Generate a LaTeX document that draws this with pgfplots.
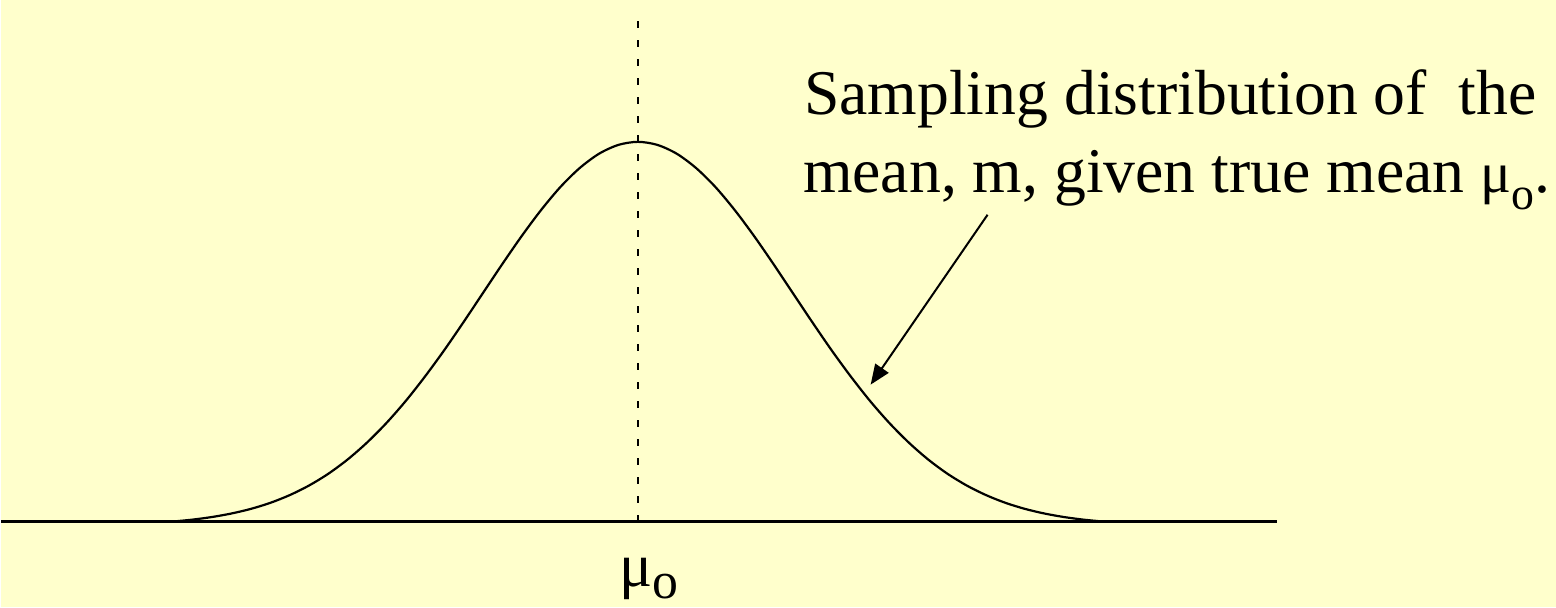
\documentclass[border=0pt]{standalone}
\usepackage{pgfplots}
\pgfplotsset{compat=1.18}
\usepackage{fontspec}
\setmainfont{Liberation Serif}
\usetikzlibrary{arrows.meta}
\definecolor{bgc}{RGB}{255,255,204}
\begin{document}
\begin{tikzpicture}
\begin{axis}[width=778bp, height=304bp, scale only axis,
  xmin=0, xmax=1556, ymin=0, ymax=608, hide axis, clip=false]
\fill[bgc] (axis cs:0,0) rectangle (axis cs:1556,608);
% baseline
\addplot[black, line width=1.5bp, no marks] coordinates {(0,86) (1277,86)};
% dashed mean line
\addplot[black, line width=1bp, no marks, dash pattern=on 3.5bp off 6bp] coordinates {(637,86) (637,598)};
% normal curve
\addplot[black, line width=1.1bp, no marks, smooth] coordinates {
(172,86) (191.375,87.9) (210.75,90.5) (230.125,94.0) (249.5,98.6) (268.875,104.6)
(288.25,112.3) (307.625,121.9) (327,133.7) (346.375,148.0) (365.75,164.9) (385.125,184.4)
(404.5,206.5) (423.875,231.1) (443.25,257.6) (462.625,285.8) (482,314.8) (501.375,343.8)
(520.75,371.8) (540.125,397.8) (559.5,420.9) (578.875,439.9) (598.25,454.2) (617.625,463.0)
(637,466)
(656.375,463.0) (675.75,454.2) (695.125,439.9) (714.5,420.9) (733.875,397.8) (753.25,371.8)
(772.625,343.8) (792,314.8) (811.375,285.8) (830.75,257.6) (850.125,231.1) (869.5,206.5)
(888.875,184.4) (908.25,164.9) (927.625,148.0) (947,133.7) (966.375,121.9) (985.75,112.3)
(1005.125,104.6) (1024.5,98.6) (1043.875,94.0) (1063.25,90.5) (1082.625,87.9) (1102,86)};
% arrow
\draw[black, line width=1bp, -{Triangle[length=10bp,width=8bp]}] (axis cs:987,393) -- (axis cs:870,223);
% texts
\node[anchor=base west, inner sep=0pt, font=\fontsize{32}{39}\selectfont] at (axis cs:803,493) {Sampling distribution of\ \ the};
\node[anchor=base west, inner sep=0pt, font=\fontsize{32}{39}\selectfont] at (axis cs:802,415) {mean, m, given true mean {\fontsize{29}{29}\selectfont μ}\raisebox{-8.5bp}{\fontsize{23}{23}\selectfont o}.};
\node[anchor=base west, inner sep=0pt] at (axis cs:618,21) {{\fontsize{31}{31}\selectfont μ}\raisebox{-6bp}{\fontsize{26}{26}\selectfont o}};
\end{axis}
\end{tikzpicture}
\end{document}
